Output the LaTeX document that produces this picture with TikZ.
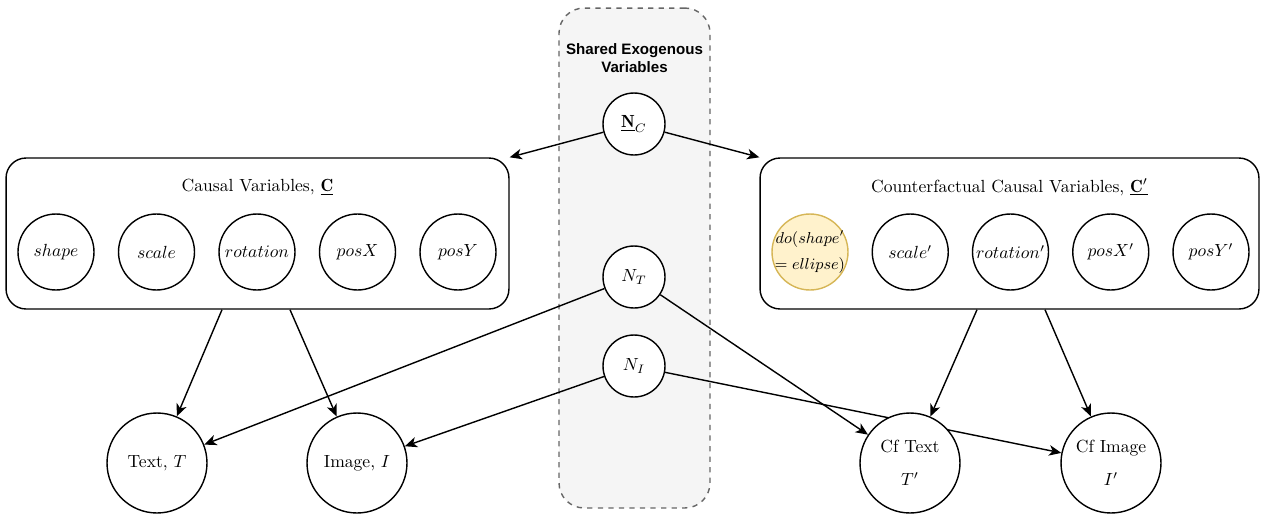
\documentclass[tikz,border=0pt]{standalone}
\usepackage{fontspec}
\usepackage{xcolor}
\newfontfamily\headfont{Liberation Sans}
\usetikzlibrary{calc, positioning, arrows.meta, backgrounds}

\definecolor{sharedfill}{HTML}{F5F5F5}
\definecolor{sharedline}{HTML}{666666}
\definecolor{dofill}{HTML}{FFF2CC}
\definecolor{doline}{HTML}{D6B656}

\begin{document}
\begin{tikzpicture}[x=0.02cm, y=-0.02cm]
    \tikzset{
      var/.style={
        circle, draw, line width=0.8pt, fill=white,
        minimum size=1.52cm, inner sep=0pt,
      },
      exo/.style={
        circle, draw, line width=0.8pt, fill=white,
        minimum size=1.24cm, inner sep=0pt,
      },
      obs/.style={
        circle, draw, line width=0.8pt, fill=white,
        minimum size=2cm, inner sep=0pt, align=center,
      },
      group/.style={
        draw, line width=0.8pt, rounded corners=0.4cm,
        minimum height=3.02cm,
      },
      shared/.style={
        draw=sharedline, fill=sharedfill, dashed, line width=0.8pt,
        rounded corners=0.5cm, minimum width=3.02cm, minimum height=10cm,
      },
      link/.style={
        -{Stealth[length=7pt,width=6pt,inset=2pt]}, draw, line width=0.8pt,
      },
      heading/.style={
        align=center, font=\headfont\bfseries\fontsize{8.6}{10.2}\selectfont,
      },
    }

    \useasboundingbox (0,0) rectangle (1261,514);

    % groups of causal variables
    \node[group, minimum width=10.06cm] (causal) at (257.5,233.5) {};
    \node at ($(causal.north) + (0,30)$) {Causal Variables, $\underline{\mathbf{C}}$};

    \node[group, minimum width=9.98cm] (cfcausal) at (1009.5,233.5) {};
    \node at ($(cfcausal.north) + (0,30)$) {Counterfactual Causal Variables, $\underline{\mathbf{C}'}$};

    \node[var] (shape) at (56,252) {$shape$};
    \node[var] (scale) at ($(shape) + (100.5,0)$) {$scale$};
    \node[var] (rotation) at ($(scale) + (100.5,0)$) {$rotation$};
    \node[var] (posx) at ($(rotation) + (100.5,0)$) {$posX$};
    \node[var] (posy) at ($(posx) + (100.5,0)$) {$posY$};

    % intervention on the shape
    \node[var, fill=dofill, draw=doline] (doshape) at (810,252) {};
    \node[align=center, inner sep=0pt, font=\fontsize{8.6}{12}\selectfont] at (doshape) {$do(shape'$\\[3pt]$=ellipse)$};
    \node[var] (cfscale) at ($(doshape) + (100.25,0)$) {$scale'$};
    \node[var] (cfrotation) at ($(cfscale) + (100.25,0)$) {$rotation'$};
    \node[var] (cfposx) at ($(cfrotation) + (100.25,0)$) {$posX'$};
    \node[var] (cfposy) at ($(cfposx) + (100.25,0)$) {$posY'$};

    % observed text and image, factual and counterfactual
    \node[obs] (text) at (157,463) {Text, $T$};
    \node[obs] (image) at ($(text) + (200,0)$) {Image, $I$};
    \node[obs] (cftext) at (910,463) {Cf Text\\[7pt]$T'$};
    \node[obs] (cfimage) at ($(cftext) + (201,0)$) {Cf Image\\[7pt]$I'$};

    % shared noise
    \node[exo] (nc) at (634,124) {$\underline{\mathbf{N}}_C$};
    \node[exo] (nt) at (634,277) {$N_T$};
    \node[exo] (ni) at (634,366) {$N_I$};

    \begin{pgfonlayer}{background}
      \node[shared] (exog) at (634.5,258) {};
      \node[heading] at ($(exog.north) + (0,51)$) {Shared Exogenous\\Variables};

      \draw[link] (nc) -- (causal.north east);
      \draw[link] (nc) -- (cfcausal.north west);

      \draw[link] ($(causal.south) + (-35.5,0)$) -- (text);
      \draw[link] ($(causal.south) + (32.5,0)$) -- (image);
      \draw[link] ($(cfcausal.south) + (-32.5,0)$) -- (cftext);
      \draw[link] ($(cfcausal.south) + (35.5,0)$) -- (cfimage);

      \draw[link] (nt) -- (text);
      \draw[link] (nt) -- (cftext);
      \draw[link] (ni) -- (image);
      \draw[link] (ni) -- (cfimage);
    \end{pgfonlayer}
\end{tikzpicture}
\end{document}
